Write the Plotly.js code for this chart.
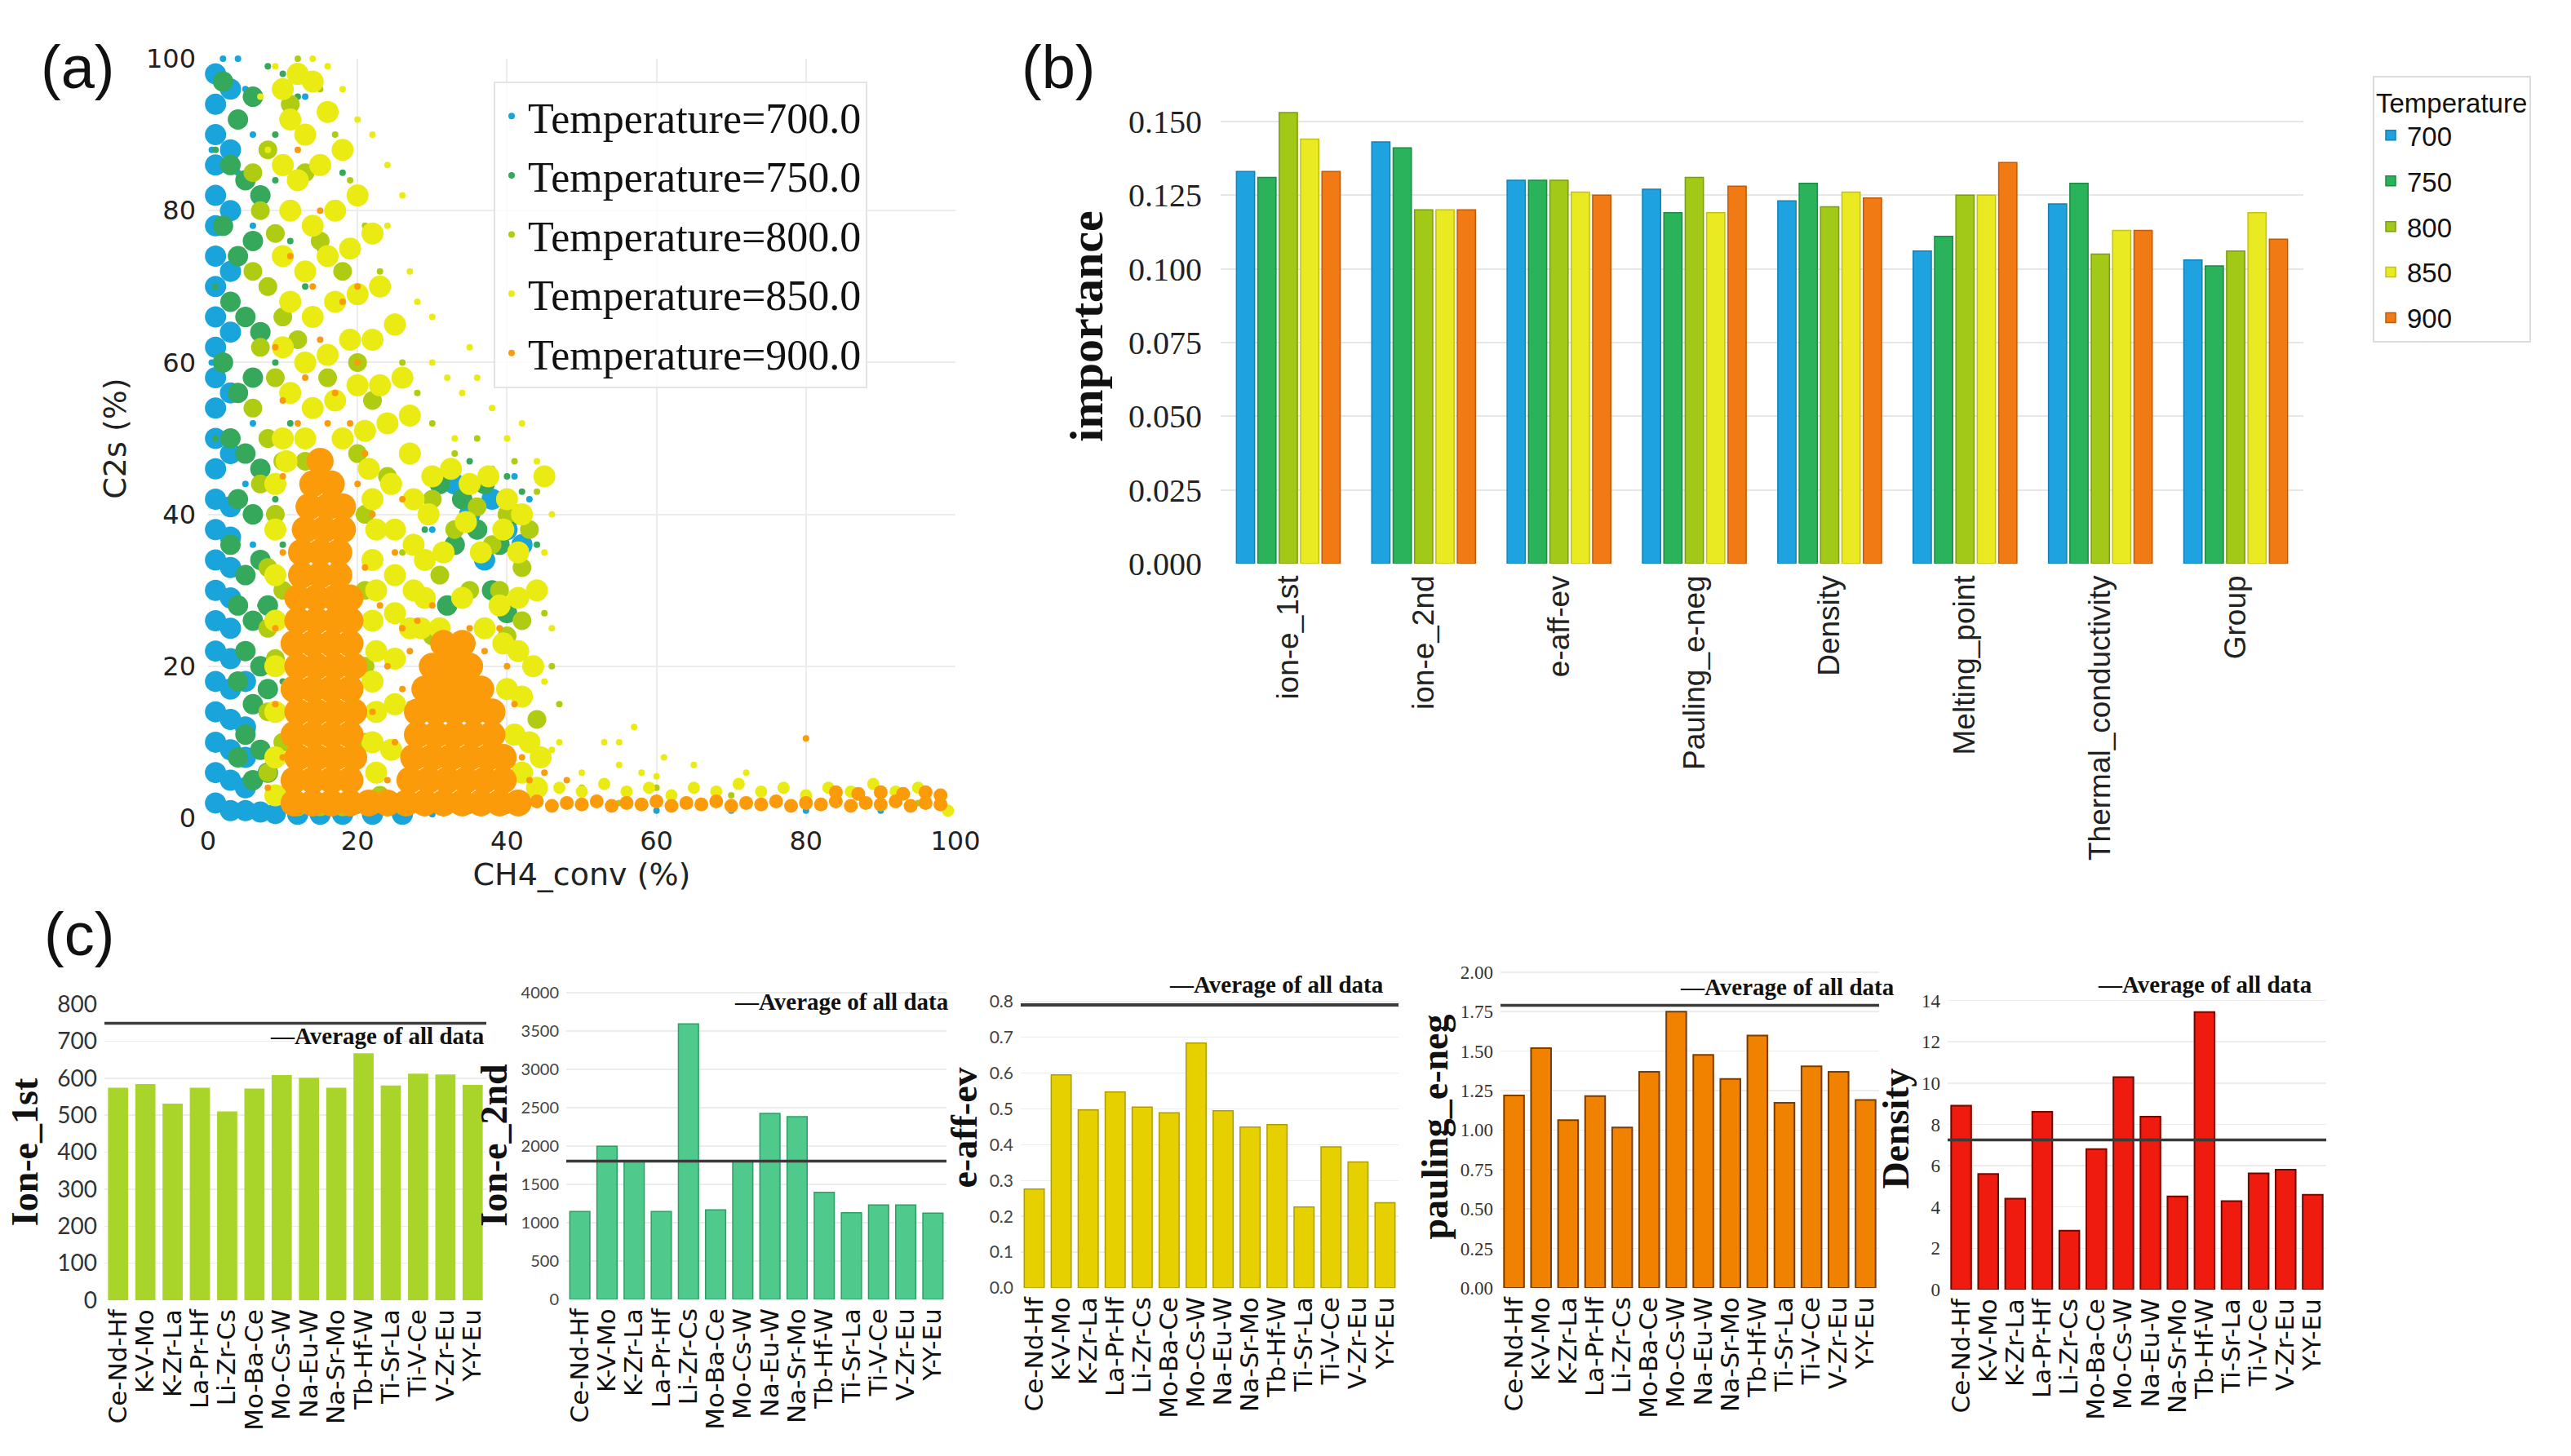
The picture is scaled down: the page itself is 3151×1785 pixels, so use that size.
<!DOCTYPE html>
<html><head><meta charset="utf-8">
<script src="https://cdn.plot.ly/plotly-3.0.1.min.js"></script>
<style>html,body{margin:0;padding:0;background:#fff;}#chart{width:3151px;height:1785px;}</style>
</head><body><div id="chart"></div>
<script>
// ---------------- Panel (a): CH4_conv (%) vs C2s (%) points, per temperature ----------------
const t700Core = [[1,2],[1,6],[1,10],[1,14],[1,18],[1,22],[1,26],[1,30],[1,34],[1,38],[1,42],[1,46],[1,50],[1,54],[1,58],[1,62],[1,66],[1,70],[1,74],[1,78],[1,82],[1,86],[1,90],[1,94],[1,98],[3,1],[3,5],[3,9],[3,13],[3,17],[3,21],[3,25],[3,29],[3,33],[3,37],[3,41],[3,48],[3,56],[3,64],[3,72],[3,80],[3,88],[3,96],[5,1],[5,4],[5,8],[5,12],[5,18],[7,0.8],[9,0.6],[12,0.5],[15,0.5],[18,0.5],[22,0.5],[26,0.5],[35,40],[38,42],[40,38],[42,36],[37,34],[33,44]];
const t700Sparse = [[4,100],[5,96],[6,90],[4,85],[6,78],[5,66],[6,52],[5,44],[6,36],[7,28],[7,20],[8,8],[10,2],[15,1],[30,0.5],[35,1],[43,42],[42,33],[32,46],[30,38],[60,1],[70,1],[80,1],[90,1],[99,1],[41,45],[2,100],[0.5,88],[0.5,60],[9,14],[11,4],[13,95],[10,92]];
const t750Core = [[2,97],[4,92],[6,95],[3,86],[5,84],[7,82],[2,78],[4,74],[6,76],[3,68],[5,66],[7,64],[2,60],[4,56],[6,58],[3,50],[5,48],[7,46],[4,42],[6,40],[3,36],[5,32],[7,34],[4,28],[6,26],[8,28],[5,22],[7,20],[4,18],[6,15],[8,17],[5,11],[7,9],[4,8],[6,5],[8,6],[9,3],[31,44],[34,42],[37,44],[33,36],[36,38],[39,36],[41,40],[32,28],[38,30],[40,27]];
const t750Sparse = [[10,98],[12,95],[14,90],[9,84],[11,76],[13,70],[10,68],[12,60],[11,52],[9,42],[10,36],[11,26],[10,18],[12,8],[20,1],[25,1],[30,1],[40,1],[42,43],[43,38],[35,47],[29,38],[43,30],[8,99],[9,90],[1,88],[1,70],[1,50],[8,50],[9,60],[8,70],[15,75],[18,85],[40,45],[44,36]];
const t800Core = [[6,85],[8,88],[7,80],[9,77],[6,72],[8,70],[10,66],[7,62],[9,58],[6,54],[8,50],[10,47],[7,44],[9,40],[8,33],[10,30],[8,25],[9,21],[8,14],[10,10],[8,6],[10,3],[12,1.5],[15,1.5],[18,1.5],[21,2],[11,94],[13,85],[15,76],[18,72],[12,63],[16,58],[20,60],[13,47],[20,48],[21,40],[21,30],[21,20],[21,10],[23,3],[24,45],[22,55],[30,42],[33,38],[36,41],[38,36],[40,40],[31,32],[35,30],[39,30],[42,33],[30,24],[40,24],[42,26],[44,13],[43,38]];
const t800Sparse = [[12,100],[15,96],[17,90],[19,84],[21,78],[23,72],[25,66],[26,60],[28,56],[30,52],[33,48],[36,50],[38,46],[41,47],[44,43],[45,27],[46,20],[47,15],[50,4],[60,4],[70,3],[80,3],[90,3],[95,2],[55,2],[28,48],[26,35],[27,15]];
const t850Core = [[10,96],[12,98],[14,97],[11,92],[13,90],[16,93],[10,86],[12,84],[15,86],[18,88],[11,80],[14,78],[17,80],[20,82],[10,74],[13,72],[16,74],[19,75],[22,77],[11,68],[14,66],[17,68],[20,69],[23,70],[10,62],[13,60],[16,61],[19,63],[22,63],[25,65],[11,56],[14,54],[17,55],[20,57],[23,57],[26,58],[10,50],[13,50],[18,50],[21,51],[24,52],[27,53],[9,44],[9,38],[9,32],[9,26],[9,20],[9,14],[9,8],[9,3],[10.5,47],[21.5,46],[22,42],[22.5,38],[22,34],[22.5,30],[22,26],[22.5,22],[22,18],[22.5,14],[22,10],[22.5,6],[24.5,44],[25,38],[25,32],[25,27],[25,21],[25,15],[24.5,9],[27,48],[27.5,42],[27.5,36],[27.5,30],[27,25],[30,45],[32.5,46],[35,44],[37.5,45],[40,42],[29.5,40],[34.5,39],[39.5,38],[42,40],[29,34],[31.5,35],[36.5,35],[41.5,35],[29,29],[34,29],[39,28],[41.5,29],[28.5,25],[31,25],[37,25],[39.5,23],[41.5,22],[40,17],[42,16],[41,11],[43,10],[42,6],[44,4],[44.5,8],[43.5,20],[44,30],[45,45]];
const t850Tail = [[44,3],[47,4],[50,3.5],[53,4.5],[56,3.5],[59,4],[62,3],[65,4],[68,3.5],[71,4.5],[74,3.5],[77,4],[80,3],[83,4],[86,3.5],[89,4.5],[92,3.5],[95,4],[98,3],[99,1]];
const t850Sparse = [[14,100],[16,99],[18,96],[20,92],[22,90],[24,86],[26,82],[24,78],[27,72],[28,68],[30,60],[32,58],[34,56],[36,58],[38,54],[40,50],[42,52],[44,47],[46,40],[45,35],[46,25],[45,18],[47,10],[55,10],[57,12],[61,8],[65,7],[35,62],[30,66],[33,50],[72,6],[9,99],[7,95],[8,88],[50,6],[55,7],[60,5.5],[46,9],[53,10],[58,6]];
const t900Core = [[11.5,2],[14,2],[16.5,2],[19,2],[21.5,2],[11.5,5],[14,5],[16.5,5],[19,5],[12,8],[14.5,8],[17,8],[19.5,8],[11.5,11],[14,11],[16.5,11],[19,11],[12,14],[14.5,14],[17,14],[19.5,14],[11.5,17],[14,17],[16.5,17],[19,17],[12,20],[14.5,20],[17,20],[19.5,20],[11.5,23],[14,23],[16.5,23],[19,23],[12,26],[14.5,26],[17,26],[19,26],[12,29],[14.5,29],[17,29],[19,29],[12.5,32],[15,32],[17.5,32],[12.5,35],[15,35],[17.5,35],[13,38],[15.5,38],[18,38],[13.5,41],[16,41],[18,41],[14,44],[16.5,44],[15,47],
  [24,2],[26.5,2],[29,2],[31.5,2],[34,2],[36.5,2],[39,2],[41.5,2],[27,5],[29.5,5],[32,5],[34.5,5],[37,5],[39.5,5],[27.5,8],[30,8],[32.5,8],[35,8],[37.5,8],[39.5,8],[28,11],[30.5,11],[33,11],[35.5,11],[38,11],[28,14],[30.5,14],[33,14],[35.5,14],[38,14],[29,17],[31.5,17],[34,17],[36.5,17],[30,20],[32.5,20],[35,20],[31.5,23],[34,23]];
const t900Tail = [[42,1.8],[44,2.2],[46,1.6],[48,2.0],[50,1.8],[52,2.2],[54,1.6],[56,2.0],[58,1.8],[60,2.2],[62,1.6],[64,2.0],[66,1.8],[68,2.2],[70,1.6],[72,2.0],[74,1.8],[76,2.2],[78,1.6],[80,2.0],[82,1.8],[84,2.2],[86,1.6],[88,2.0],[90,1.8],[92,2.2],[94,1.6],[96,2.0],[98,1.8],[84,3.4],[87,3.2],[90,3.4],[93,3.2],[96,3.4],[98,3.0]];
const t900Sparse = [[9,62],[10,55],[12,52],[13,58],[15,63],[17,56],[19,52],[21,48],[22,40],[21,33],[23,28],[24,20],[22,14],[25,10],[24,5],[26,25],[10,45],[10,35],[9,25],[9,15],[10,8],[8,4],[20,60],[18,68],[14,70],[11,74],[16,52],[20,44],[40,20],[41,15],[42,8],[43,5],[26,17],[27,22],[28,26],[30,28],[35,25],[37,22],[39,25],[25,35],[26,42],[20,70],[15,80],[12,88],[80,10.5],[45,6],[48,5]];

// ---------------- Panel (b): feature importance ----------------
const features = ['ion-e_1st','ion-e_2nd','e-aff-ev','Pauling_e-neg','Density','Melting_point','Thermal_conductivity','Group'];
const temps = ['700','750','800','850','900'];
const imp700 = [0.133, 0.143, 0.130, 0.127, 0.123, 0.106, 0.122, 0.103];
const imp750 = [0.131, 0.141, 0.130, 0.119, 0.129, 0.111, 0.129, 0.101];
const imp800 = [0.153, 0.120, 0.130, 0.131, 0.121, 0.125, 0.105, 0.106];
const imp850 = [0.144, 0.120, 0.126, 0.119, 0.126, 0.125, 0.113, 0.119];
const imp900 = [0.133, 0.120, 0.125, 0.128, 0.124, 0.136, 0.113, 0.110];
const impTicks = [0, 0.025, 0.05, 0.075, 0.1, 0.125, 0.15];

// ---------------- Panel (c): element properties per catalyst ----------------
const catalysts = ['Ce-Nd-Hf','K-V-Mo','K-Zr-La','La-Pr-Hf','Li-Zr-Cs','Mo-Ba-Ce','Mo-Cs-W','Na-Eu-W','Na-Sr-Mo','Tb-Hf-W','Ti-Sr-La','Ti-V-Ce','V-Zr-Eu','Y-Y-Eu'];
const ionE1st = [574, 584, 531, 574, 510, 572, 608, 601, 574, 667, 580, 612, 610, 582];
const ionE2nd = [1146, 1996, 1803, 1146, 3592, 1167, 1803, 2425, 2382, 1395, 1129, 1232, 1232, 1124];
const eAffEv = [0.276, 0.595, 0.497, 0.547, 0.505, 0.489, 0.684, 0.495, 0.449, 0.456, 0.226, 0.394, 0.352, 0.238];
const paulingENeg = [1.219, 1.518, 1.062, 1.215, 1.016, 1.368, 1.749, 1.476, 1.324, 1.598, 1.173, 1.403, 1.368, 1.190];
const density = [8.91, 5.60, 4.40, 8.61, 2.85, 6.80, 10.29, 8.37, 4.51, 13.44, 4.29, 5.63, 5.81, 4.59];
const averages = [748, 1803, 0.79, 1.79, 7.25];
const avgLabel = '\u2014Average of all data';

// ---------------- helpers ----------------
const W = 3151, H = 1785;
const dx = (a, b) => [a / W, b / W];
const dy = (top, bottom) => [1 - bottom / H, 1 - top / H];
const xs = p => p.map(v => v[0]);
const ys = p => p.map(v => v[1]);

const scColors = {'700':'#19a5dc','750':'#35a85c','800':'#b0cc12','850':'#ebeb14','900':'#fb9b0a'};
const traces = [];
function sc(pts, t, size, show) {
  traces.push({type:'scatter', mode:'markers', x:xs(pts), y:ys(pts), xaxis:'x', yaxis:'y',
    name:'Temperature=' + t + '.0', legendgroup:'T' + t, showlegend:show, legend:'legend',
    marker:{color:scColors[t], size:size, line:{width:0}}, cliponaxis:false, hoverinfo:'skip'});
}
sc(t700Core,'700',26,false); sc(t700Sparse,'700',8,true);
sc(t750Core,'750',25,false); sc(t750Sparse,'750',8,true);
sc(t800Core,'800',23,false); sc(t800Sparse,'800',8,true);
sc(t850Core,'850',27,false); sc(t850Tail,'850',15,false); sc(t850Sparse,'850',8,true);
sc(t900Tail,'900',17,false); sc(t900Core,'900',33,false); sc(t900Sparse,'900',8,true);

const bColors = ['#1ea2e0','#2bb35c','#a2c918','#eaea22','#f27a14'];
const bEdges = ['#1580b4','#1f8a45','#7d9c10','#c2c210','#c05a08'];
[imp700, imp750, imp800, imp850, imp900].forEach((v, i) => {
  traces.push({type:'bar', x:features, y:v, xaxis:'x2', yaxis:'y2', name:temps[i], legend:'legend2',
    legendgroup:'b' + temps[i], marker:{color:bColors[i], line:{color:bEdges[i], width:1.5}}, hoverinfo:'skip'});
});

const cPanels = [
  {data:ionE1st, title:'Ion-e_1st', color:'#a9d52b', edge:'#98c420', ew:0, range:[0,800], dtick:100, fmt:'d',
   tf:{family:'Lato', size:28, color:'#333'}, xd:dx(128,596), yd:dy(1231,1594), stand:9, ax:1.0, ay:0.893, lw:3.5},
  {data:ionE2nd, title:'Ion-e_2nd', color:'#4fca8c', edge:'#2f9e63', ew:1.5, range:[0,4020], dtick:500, fmt:'d',
   tf:{family:'Lato', size:20, color:'#444'}, xd:dx(694,1160), yd:dy(1215,1593), stand:2, ax:1.01, ay:0.966, lw:3.5},
  {data:eAffEv, title:'e-aff-ev', color:'#e6d000', edge:'#b09c00', ew:1.5, range:[0,0.895], dtick:0.1, fmt:'.1f',
   tf:{family:'Lato', size:21, color:'#444'}, xd:dx(1251,1714), yd:dy(1186,1579), stand:0, ax:0.965, ay:0.947, lw:4},
  {data:paulingENeg, title:'pauling_e-neg', color:'#f08200', edge:'#7a3c00', ew:2, range:[0,2.04], dtick:0.25, fmt:'.2f',
   tf:{family:'Liberation Serif', size:23, color:'#333'}, xd:dx(1839,2303), yd:dy(1184,1579), stand:0, ax:1.045, ay:0.934, lw:3.5},
  {data:density, title:'Density', color:'#ee1b0e', edge:'#700800', ew:2, range:[0,15.6], dtick:2, fmt:'d',
   tf:{family:'Liberation Serif', size:23, color:'#333'}, xd:dx(2387,2851), yd:dy(1186,1581), stand:0, ax:0.968, ay:0.947, lw:3.5}
];

const layout = {
  width:W, height:H, margin:{l:0,r:0,t:0,b:0}, paper_bgcolor:'#fff', plot_bgcolor:'#fff',
  font:{family:'DejaVu Sans', color:'#222'}, bargap:0.21, bargroupgap:0.15, barmode:'group',
  xaxis:{domain:dx(255,1171), anchor:'y', range:[0,100], tickvals:[0,20,40,60,80,100], showgrid:true, gridcolor:'#ececec', gridwidth:2,
    zeroline:false, showline:false, ticks:'', tickfont:{family:'DejaVu Sans', size:32, color:'#222'}, ticklabelstandoff:6,
    title:{text:'CH4_conv (%)', font:{family:'DejaVu Sans', size:38, color:'#222'}, standoff:6}},
  yaxis:{domain:dy(72,1003), anchor:'x', range:[0,100], tickvals:[0,20,40,60,80,100], showgrid:true, gridcolor:'#ececec', gridwidth:2,
    zeroline:false, showline:false, ticks:'', tickfont:{family:'DejaVu Sans', size:32, color:'#222'}, ticklabelstandoff:14,
    title:{text:'C2s (%)', font:{family:'DejaVu Sans', size:38, color:'#222'}, standoff:12}},
  xaxis2:{domain:dx(1496,2823), anchor:'y2', type:'category', tickangle:-90, ticks:'', showgrid:false, zeroline:false,
    tickfont:{family:'Liberation Sans', size:37, color:'#222'}, ticklabelstandoff:6},
  yaxis2:{domain:dy(109,691), anchor:'x2', range:[0,0.161], tickvals:impTicks, tickformat:'.3f', ticks:'', showgrid:true,
    gridcolor:'#e6e6e6', gridwidth:2, zeroline:false, ticklabelstandoff:22,
    tickfont:{family:'Liberation Serif', size:40, color:'#222'},
    title:{text:'importance', font:{family:'Liberation Serif', size:58, weight:700, color:'#111'}, standoff:12}},
  legend:{x:605/W, y:1-100/H, xanchor:'left', yanchor:'top', bgcolor:'rgba(255,255,255,0.85)', bordercolor:'#e4e4e4', borderwidth:2,
    font:{family:'Liberation Serif', size:52, color:'#111'}, tracegroupgap:2, itemsizing:'trace'},
  legend2:{x:2908/W, y:1-93/H, xanchor:'left', yanchor:'top', bgcolor:'#fff', bordercolor:'#dcdcdc', borderwidth:2,
    title:{text:'Temperature', font:{family:'Liberation Sans', size:33, color:'#111'}},
    font:{family:'Liberation Sans', size:33, color:'#111'}, tracegroupgap:10},
  annotations:[
    {text:'(a)', xref:'paper', yref:'paper', x:95/W, y:1-82/H, xanchor:'center', yanchor:'middle', showarrow:false, font:{family:'Liberation Sans', size:74, color:'#111'}},
    {text:'(b)', xref:'paper', yref:'paper', x:1297/W, y:1-82/H, xanchor:'center', yanchor:'middle', showarrow:false, font:{family:'Liberation Sans', size:74, color:'#111'}},
    {text:'(c)', xref:'paper', yref:'paper', x:97/W, y:1-1145/H, xanchor:'center', yanchor:'middle', showarrow:false, font:{family:'Liberation Sans', size:74, color:'#111'}}
  ],
  shapes:[]
};

cPanels.forEach((p, i) => {
  const k = i + 3;
  traces.push({type:'bar', x:catalysts, y:p.data, xaxis:'x' + k, yaxis:'y' + k, showlegend:false, width:0.74,
    marker:{color:p.color, line:{color:p.edge, width:p.ew}}, hoverinfo:'skip'});
  layout['xaxis' + k] = {domain:p.xd, anchor:'y' + k, type:'category', tickmode:'array', tickvals:catalysts, ticktext:catalysts,
    tickangle:-90, ticks:'', showgrid:false, zeroline:false,
    tickfont:{family:'DejaVu Sans', size:31, color:'#111'}, ticklabelstandoff:4};
  layout['yaxis' + k] = {domain:p.yd, anchor:'x' + k, range:p.range, dtick:p.dtick, tick0:0, tickformat:p.fmt, ticks:'',
    showgrid:true, gridcolor:'#ececec', gridwidth:1.5, zeroline:false, tickfont:p.tf, ticklabelstandoff:8,
    title:{text:p.title, font:{family:'Liberation Serif', size:46, weight:700, color:'#111'}, standoff:p.stand}};
  layout.shapes.push({type:'line', xref:'x' + k + ' domain', x0:0, x1:1, yref:'y' + k, y0:averages[i], y1:averages[i],
    line:{color:'#3a3a3a', width:p.lw}});
  layout.annotations.push({text:avgLabel, xref:'x' + k + ' domain', yref:'y' + k + ' domain', x:p.ax, y:p.ay,
    xanchor:'right', yanchor:'middle', showarrow:false, font:{family:'Liberation Serif', size:29, weight:700, color:'#111'}});
});

Plotly.newPlot('chart', traces, layout, {staticPlot:true, displayModeBar:false});
</script></body></html>
